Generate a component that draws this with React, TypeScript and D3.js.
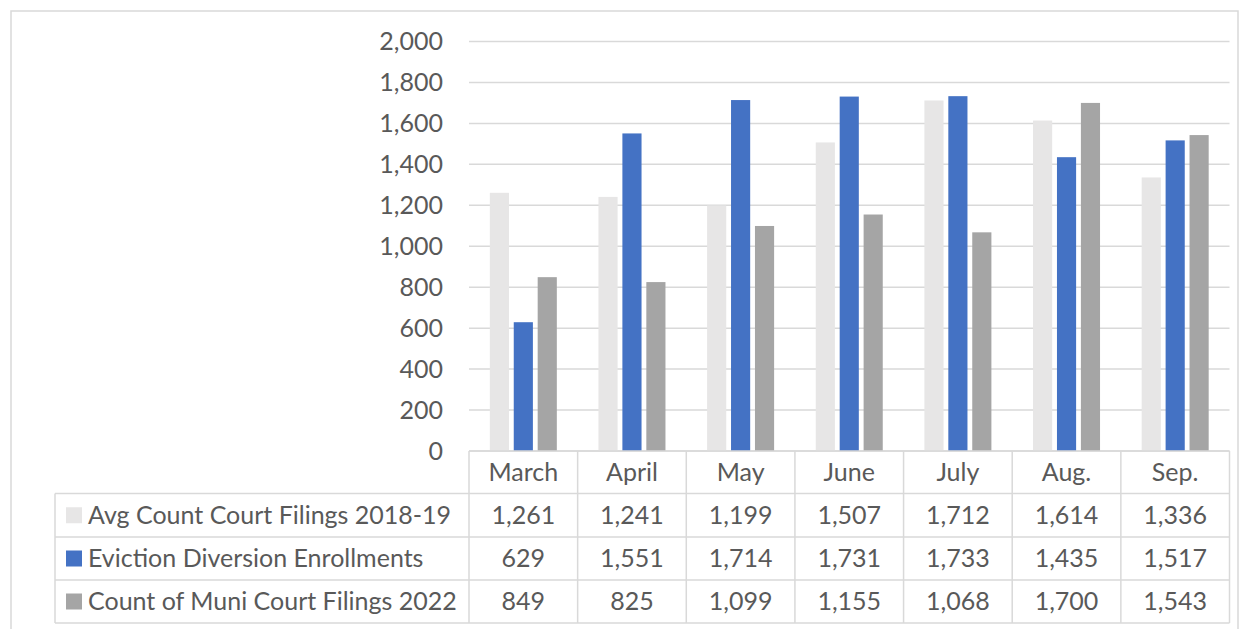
import React from "react";
import * as d3 from "d3";

const months = ["March", "April", "May", "June", "July", "Aug.", "Sep."];
const seriesNames = [
  "Avg Count Court Filings 2018-19",
  "Eviction Diversion Enrollments",
  "Count of Muni Court Filings 2022",
];
const avgFilings = [1261, 1241, 1199, 1507, 1712, 1614, 1336];
const enrollments = [629, 1551, 1714, 1731, 1733, 1435, 1517];
const muniFilings = [849, 825, 1099, 1155, 1068, 1700, 1543];
const yTicks = [0, 200, 400, 600, 800, 1000, 1200, 1400, 1600, 1800, 2000];
const colors = ["#E7E6E6", "#4472C4", "#A5A5A5"];

const W = 1248;
const H = 629;
const FONT = "Lato, 'Open Sans', sans-serif";
const TXT = "#595959";
const GRID = "#D9D9D9";

export default function App() {
  const series = [avgFilings, enrollments, muniFilings];
  const plotL = 469;
  const plotR = 1229.5;
  const y0 = 451;
  const y1 = 41.5;
  const x = d3.scaleBand<string>().domain(months).range([plotL, plotR]).paddingInner(0).paddingOuter(0);
  const inner = d3
    .scaleBand<number>()
    .domain([0, 1, 2])
    .range([0, x.bandwidth()])
    .paddingInner(0.2)
    .paddingOuter(0.87);
  const y = d3.scaleLinear().domain([0, 2000]).range([y0, y1]);
  const fmt = d3.format(",");

  const rowTops = [451, 493.5, 537, 580, 623];
  const legendL = 55;
  const fs = 25;

  return (
    <svg
      width={W}
      height={H}
      style={{ position: "absolute", left: 0, top: 0, background: "#fff" }}
      fontFamily={FONT}
    >
      <rect x={0} y={0} width={W} height={H} fill="#fff" />
      {/* outer chart border */}
      <rect x={11} y={11} width={1227} height={700} fill="none" stroke={GRID} strokeWidth={1.5} />

      {/* gridlines */}
      {yTicks.map((t) => (
        <line key={"g" + t} x1={plotL} x2={plotR} y1={y(t)} y2={y(t)} stroke={GRID} strokeWidth={1.5} />
      ))}
      {/* y tick labels */}
      {yTicks.map((t) => (
        <text
          key={"t" + t}
          x={443}
          y={y(t)}
          dy="0.35em"
          textAnchor="end"
          fontSize={fs}
          fill={TXT}
        >
          {fmt(t)}
        </text>
      ))}

      {/* bars */}
      {series.map((vals, si) =>
        months.map((m, i) => (
          <rect
            key={si + "-" + m}
            x={(x(m) as number) + (inner(si) as number)}
            y={y(vals[i])}
            width={inner.bandwidth()}
            height={y0 - y(vals[i])}
            fill={colors[si]}
          />
        ))
      )}

      {/* data table */}
      <g stroke={GRID} strokeWidth={1.5} fill="none">
        <line x1={plotL} x2={plotR} y1={rowTops[0]} y2={rowTops[0]} />
        {rowTops.slice(1).map((ry, k) => (
          <line key={"h" + k} x1={legendL} x2={plotR} y1={ry} y2={ry} />
        ))}
        {months.map((m) => (
          <line key={"v" + m} x1={x(m) as number} x2={x(m) as number} y1={rowTops[0]} y2={rowTops[4]} />
        ))}
        <line x1={plotR} x2={plotR} y1={rowTops[0]} y2={rowTops[4]} />
        <line x1={legendL} x2={legendL} y1={rowTops[1]} y2={rowTops[4]} />
      </g>

      {/* month labels */}
      {months.map((m) => (
        <text
          key={"m" + m}
          x={(x(m) as number) + x.bandwidth() / 2}
          y={(rowTops[0] + rowTops[1]) / 2}
          dy="0.35em"
          textAnchor="middle"
          fontSize={fs}
          fill={TXT}
        >
          {m}
        </text>
      ))}

      {/* rows */}
      {series.map((vals, si) => {
        const cy = (rowTops[si + 1] + rowTops[si + 2]) / 2;
        return (
          <g key={"row" + si}>
            <rect x={66} y={cy - 8} width={16} height={16} fill={colors[si]} />
            <text x={88} y={cy} dy="0.35em" fontSize={fs} fill={TXT}>
              {seriesNames[si]}
            </text>
            {months.map((m, i) => (
              <text
                key={"c" + si + m}
                x={(x(m) as number) + x.bandwidth() / 2}
                y={cy}
                dy="0.35em"
                textAnchor="middle"
                fontSize={fs}
                fill={TXT}
              >
                {fmt(vals[i])}
              </text>
            ))}
          </g>
        );
      })}
    </svg>
  );
}
